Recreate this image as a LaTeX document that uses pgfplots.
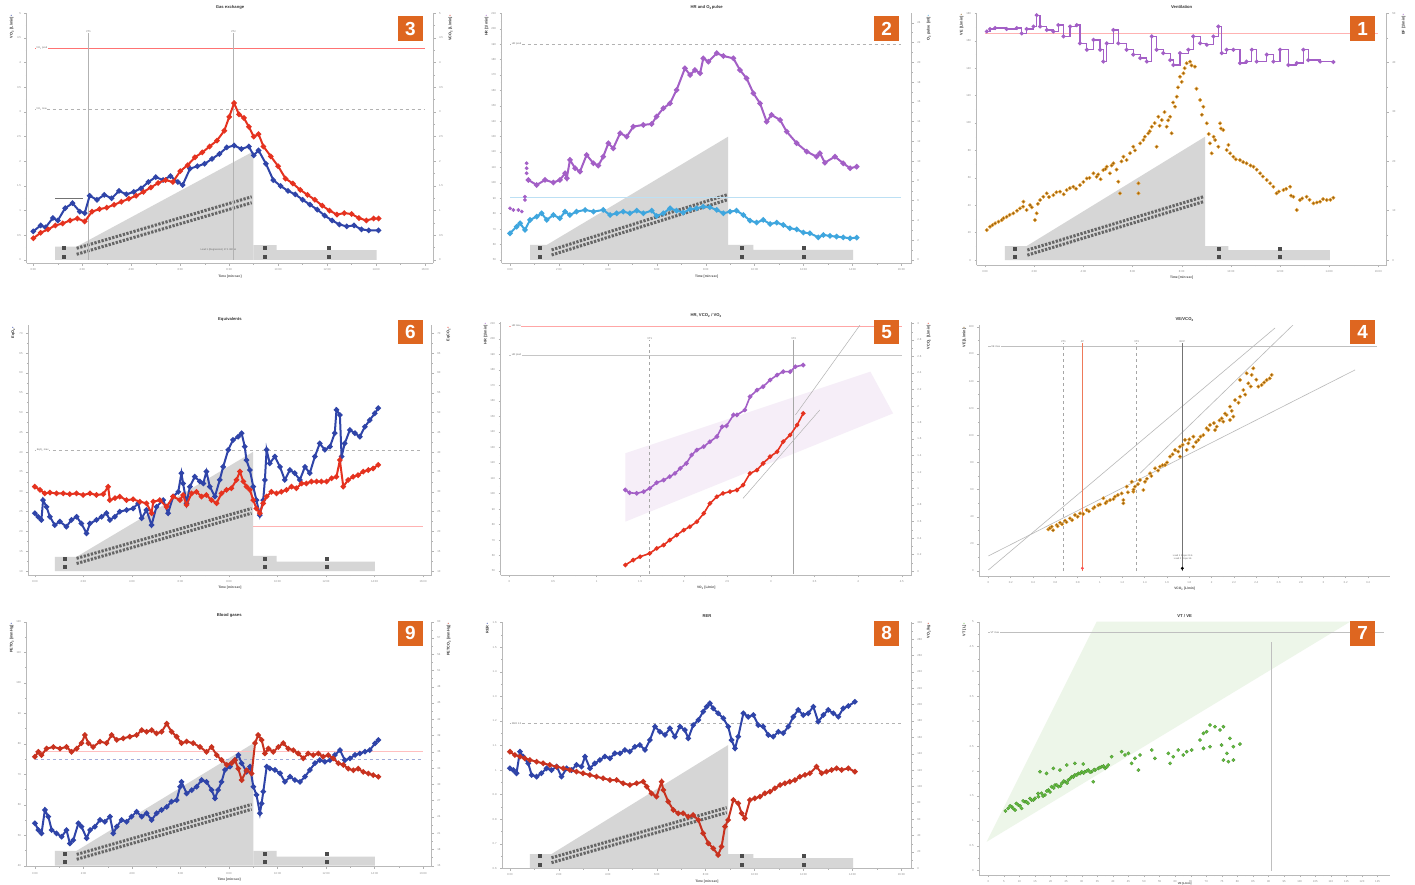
\documentclass[border=0pt]{standalone}
\usepackage{fontspec}
\setmainfont{Liberation Sans}
\usepackage{pgfplots}
\pgfplotsset{compat=1.18}
\definecolor{blueS}{HTML}{2F44A8}
\definecolor{redS}{HTML}{E5321F}
\definecolor{dredS}{HTML}{C8321F}
\definecolor{purpS}{HTML}{A35FC6}
\definecolor{lblueS}{HTML}{3FA6DE}
\definecolor{brownS}{HTML}{946016}
\definecolor{orngS}{HTML}{E8A030}
\definecolor{greenS}{HTML}{62BE3E}
\definecolor{badge}{HTML}{DE6620}
\definecolor{rampG}{HTML}{D6D6D6}
\definecolor{lav}{HTML}{F6EEF8}
\definecolor{lgreen}{HTML}{EDF6E9}
\definecolor{salmon}{HTML}{EE7A5A}
\tikzset{tt/.style={font=\fontsize{2.5}{3}\selectfont, text=black!60, inner sep=0.5bp}}
\pgfplotsset{
  noarr/.style={every outer x axis line/.append style={-}, every outer y axis line/.append style={-},
    every inner x axis line/.append style={-}, every inner y axis line/.append style={-},
    x axis line style={-}, y axis line style={-}},
  base/.style={scale only axis, enlargelimits=false, clip mode=individual,
    axis x line*=bottom, axis y line*=left,
    axis line style={gray!55, line width=0.5bp}, noarr,
    every tick/.style={gray!60, line width=0.4bp},
    major tick length=2.2bp, minor tick length=1.2bp, tick align=outside,
    minor x tick num=1, minor y tick num=1,
    tick label style={font=\fontsize{2.8}{3}\selectfont, text=black!45},
    /pgf/number format/assume math mode=true,
    title style={font=\fontsize{4.2}{5}\selectfont\bfseries, text=black!80, at={(0.5,1)}, anchor=center},
    xlabel style={font=\fontsize{3.3}{4}\selectfont\bfseries, text=black!70, yshift=3bp}},
  rax/.style={scale only axis, enlargelimits=false, clip mode=individual, axis x line=none, axis y line*=right,
    axis line style={gray!55, line width=0.5bp}, noarr,
    every tick/.style={gray!60, line width=0.4bp},
    major tick length=2.2bp, minor tick length=1.2bp, tick align=outside, minor y tick num=1,
    tick label style={font=\fontsize{2.8}{3}\selectfont, text=black!45},
    /pgf/number format/assume math mode=true},
  tl/.style={line width=2bp, mark=*, mark size=1.6bp},
  sc/.style={only marks, mark=*, mark size=1.7bp},
  ramp/.style={fill=rampG, draw=none},
  strip/.style={black!60, line width=3bp, dash pattern=on 2.3bp off 1.4bp},
  pair/.style={only marks, mark=square*, mark size=1.5bp, black!70},
  refl/.style={line width=0.5bp},
}
\newcommand{\lft}[2]{\node[xshift=-15bp,yshift=-1.5bp,rotate=90,anchor=east,inner sep=0pt,font=\fontsize{3.8}{4}\selectfont\bfseries,text=black!80] at (rel axis cs:0,1) {#2\,{\color{#1}\textbullet}};}
\newcommand{\rgt}[2]{\node[xshift=17bp,yshift=-1.5bp,rotate=90,anchor=east,inner sep=0pt,font=\fontsize{3.8}{4}\selectfont\bfseries,text=black!80] at (rel axis cs:1,1) {#2\,{\color{#1}\textbullet}};}
\newcommand{\badge}[3]{\node[fill=badge,text=white,minimum size=24.5bp,inner sep=0pt,font=\fontsize{19}{19}\selectfont\bfseries] at (#1bp,-#2bp) {#3};}
\newcommand{\two}{\textsubscript{2}}
\begin{document}
\begin{tikzpicture}
\useasboundingbox[fill=white] (0,0) rectangle (1415bp,-885bp);

% ================= Panel 3 : Gas exchange =================
\begin{axis}[base, at={(26.7bp,-263.3bp)}, anchor=south west, width=406.7bp, height=250bp,
  xmin=-0.27, xmax=16.34, ymin=-0.068, ymax=5.0,
  xtick={0,2,4,6,8,10,12,14,16}, xticklabels={0:00,2:00,4:00,6:00,8:00,10:00,12:00,14:00,16:00},
  ytick={0,0.5,1,1.5,2,2.5,3,3.5,4,4.5,5},
  title={Gas exchange}, xlabel={Time [min:sec]}]
\addplot[ramp] coordinates {(0.89,0)(0.89,0.27)(1.77,0.27)(8.99,2.2)(8.99,0)} -- cycle;
\addplot[ramp] coordinates {(8.99,0)(8.99,0.30)(9.94,0.30)(9.94,0.20)(14.02,0.20)(14.02,0)} -- cycle;
\addplot[strip] coordinates {(1.77,0.115)(8.92,1.16)};
\addplot[strip] coordinates {(1.77,0.236)(8.92,1.28)};
\addplot[pair] coordinates {(1.23,0.07)(1.23,0.24)(9.46,0.07)(9.46,0.24)(12.05,0.07)(12.05,0.24)};
\addplot[black!55, refl] coordinates {(0.89,1.25)(2.04,1.25)};
\node[tt, anchor=west] at (axis cs:6.8,0.2) {Load 1 (Regression) 17.1 W/min};
\addplot[red!55, refl] coordinates {(0.07,4.29)(16,4.29)};
\addplot[gray!60, refl, dashed] coordinates {(0.07,3.05)(16,3.05)};
\node[tt, anchor=west, fill=white] at (axis cs:0.1,4.29) {VO\two\ pred};
\node[tt, anchor=west, fill=white] at (axis cs:0.1,3.05) {VO\two\ max};
\addplot[gray!60, refl] coordinates {(2.25,0)(2.25,4.6)};
\addplot[gray!60, refl] coordinates {(8.17,0)(8.17,4.6)};
\node[tt, anchor=south] at (axis cs:2.25,4.6) {VT1};
\node[tt, anchor=south] at (axis cs:8.17,4.6) {VT2};
\addplot[blueS, tl] coordinates {(0.0,0.58)(0.3,0.70)(0.5,0.66)(0.8,0.85)(1.0,0.80)(1.3,1.05)(1.6,1.15)(1.9,0.98)(2.1,0.95)(2.3,1.30)(2.6,1.22)(2.9,1.32)(3.2,1.25)(3.5,1.40)(3.8,1.33)(4.1,1.38)(4.4,1.45)(4.7,1.58)(5.0,1.68)(5.3,1.62)(5.6,1.70)(5.9,1.58)(6.1,1.52)(6.4,1.85)(6.7,1.90)(7.0,1.95)(7.3,2.05)(7.6,2.15)(7.9,2.28)(8.2,2.32)(8.5,2.25)(8.8,2.30)(9.0,2.12)(9.2,2.22)(9.5,1.95)(9.8,1.62)(10.1,1.50)(10.4,1.40)(10.7,1.33)(11.0,1.22)(11.3,1.12)(11.6,1.02)(11.9,0.90)(12.2,0.80)(12.5,0.72)(12.8,0.68)(13.1,0.70)(13.4,0.62)(13.7,0.60)(14.1,0.60)};
\addplot[redS, tl] coordinates {(0.0,0.44)(0.3,0.55)(0.6,0.62)(0.9,0.70)(1.2,0.74)(1.5,0.80)(1.8,0.84)(2.1,0.78)(2.4,0.98)(2.7,1.03)(3.0,1.06)(3.3,1.12)(3.6,1.18)(3.9,1.24)(4.2,1.30)(4.5,1.38)(4.8,1.47)(5.1,1.56)(5.4,1.62)(5.7,1.58)(6.0,1.80)(6.3,1.92)(6.6,2.08)(6.9,2.18)(7.2,2.30)(7.5,2.42)(7.8,2.62)(8.0,2.90)(8.2,3.18)(8.4,2.95)(8.6,2.88)(8.8,2.70)(9.0,2.50)(9.2,2.55)(9.4,2.30)(9.7,2.10)(10.0,1.90)(10.3,1.65)(10.6,1.55)(10.9,1.42)(11.2,1.32)(11.5,1.22)(11.8,1.10)(12.1,1.00)(12.4,0.92)(12.7,0.95)(13.0,0.93)(13.3,0.85)(13.6,0.80)(13.9,0.84)(14.1,0.84)};
\lft{blueS}{VO\two\ [L/min]}
\end{axis}
\begin{axis}[rax, at={(26.7bp,-263.3bp)}, anchor=south west, width=406.7bp, height=250bp,
  xmin=-0.27, xmax=16.34, ymin=-0.068, ymax=5.0, ytick={0,0.5,1,1.5,2,2.5,3,3.5,4,4.5,5}]
\rgt{redS}{VCO\two\ [L/min]}
\end{axis}

% ================= Panel 2 : HR and O2 pulse =================
\begin{axis}[base, at={(501.7bp,-263.3bp)}, anchor=south west, width=410bp, height=250bp,
  xmin=-0.34, xmax=16.42, ymin=47.8, ymax=210,
  xtick={0,2,4,6,8,10,12,14,16}, xticklabels={0:00,2:00,4:00,6:00,8:00,10:00,12:00,14:00,16:00},
  ytick={50,60,70,80,90,100,110,120,130,140,150,160,170,180,190,200,210},
  title={HR and O\two pulse}, xlabel={Time [min:sec]}]
\addplot[ramp] coordinates {(0.82,50)(0.82,59.7)(1.50,59.7)(8.92,130)(8.92,50)} -- cycle;
\addplot[ramp] coordinates {(8.92,50)(8.92,59.7)(9.95,59.7)(9.95,56.5)(14.03,56.5)(14.03,50)} -- cycle;
\addplot[strip] coordinates {(1.70,53.2)(8.86,88.9)};
\addplot[strip] coordinates {(1.70,56.5)(8.86,92.2)};
\addplot[pair] coordinates {(1.23,52.2)(1.23,57.6)(9.47,52.2)(9.47,57.6)(11.99,52.2)(11.99,57.6)};
\addplot[gray!60, refl, dashed] coordinates {(0,190)(16,190)};
\addplot[lblueS!35, refl] coordinates {(0,90.6)(16,90.6)};
\node[tt, anchor=west, fill=white] at (axis cs:0.05,190) {HR pred};
\addplot[purpS, sc] coordinates {(0.0,83.5)(0.14,82.4)(0.34,82.4)(0.48,81.4)(0.61,91.0)(0.61,88.9)(0.68,112.7)(0.68,109.5)(0.68,106.2)};
\addplot[purpS, tl] coordinates {(0.75,101.9)(1.09,98.6)(1.43,101.9)(1.77,100.2)(2.04,101.9)(2.25,106.2)(2.32,103.0)(2.45,114.9)(2.66,109.5)(2.86,107.3)(3.13,118.1)(3.41,112.7)(3.61,111.2)(3.81,117.0)(4.02,125.7)(4.22,122.4)(4.50,132.2)(4.77,130.0)(5.04,136.5)(5.45,137.6)(5.79,138.2)(5.99,143.0)(6.27,148.4)(6.54,151.6)(6.81,160.3)(7.15,174.3)(7.36,170.0)(7.56,173.2)(7.77,171.1)(7.90,180.8)(8.11,178.6)(8.45,184.1)(8.72,182.3)(9.13,180.8)(9.40,173.2)(9.67,167.8)(9.95,158.1)(10.22,151.6)(10.49,139.7)(10.69,144.1)(11.04,140.8)(11.31,133.2)(11.72,125.7)(12.13,120.3)(12.53,117.0)(12.67,119.2)(12.87,113.1)(13.28,117.0)(13.62,112.7)(13.90,109.5)(14.17,110.5)};
\lft{purpS}{HR [1/min]}
\end{axis}
\begin{axis}[rax, at={(501.7bp,-263.3bp)}, anchor=south west, width=410bp, height=250bp,
  xmin=-0.34, xmax=16.42, ymin=-0.34, ymax=24.96, ytick={0,2,4,6,8,10,12,14,16,18,20,22,24}]
\addplot[lblueS, tl] coordinates {(0.0,2.70)(0.27,3.37)(0.41,3.71)(0.61,3.04)(0.82,4.05)(1.09,4.38)(1.29,4.72)(1.50,4.05)(1.77,4.55)(2.04,4.22)(2.25,4.89)(2.45,4.55)(2.72,4.89)(3.07,5.06)(3.41,4.89)(3.81,5.06)(4.09,4.55)(4.36,4.72)(4.63,4.89)(4.90,4.72)(5.18,4.99)(5.45,4.72)(5.79,4.99)(5.99,4.45)(6.27,4.72)(6.54,5.23)(6.81,4.99)(7.08,4.79)(7.36,5.13)(7.63,5.23)(7.90,5.40)(8.17,5.33)(8.45,5.06)(8.72,4.72)(8.99,4.89)(9.26,4.99)(9.54,4.55)(9.81,3.98)(10.08,3.78)(10.35,4.05)(10.63,3.64)(10.90,3.78)(11.17,3.54)(11.44,3.20)(11.72,3.10)(11.99,2.77)(12.26,2.70)(12.60,2.29)(12.81,2.53)(13.08,2.43)(13.35,2.36)(13.62,2.29)(13.90,2.19)(14.17,2.26)};
\rgt{lblueS}{O\two\ pulse [ml]}
\end{axis}

% ================= Panel 1 : Ventilation =================
\begin{axis}[base, at={(976.7bp,-265bp)}, anchor=south west, width=410bp, height=252.3bp,
  xmin=-0.34, xmax=16.34, ymin=-3.6, ymax=180.5,
  xtick={0,2,4,6,8,10,12,14,16}, xticklabels={0:00,2:00,4:00,6:00,8:00,10:00,12:00,14:00,16:00},
  ytick={0,20,40,60,80,100,120,140,160,180},
  title={Ventilation}, xlabel={Time [min:sec]}]
\addplot[ramp] coordinates {(0.81,0)(0.81,10.2)(1.69,10.2)(8.95,90)(8.95,0)} -- cycle;
\addplot[ramp] coordinates {(8.95,0)(8.95,10.2)(9.90,10.2)(9.90,7.3)(14.03,7.3)(14.03,0)} -- cycle;
\addplot[strip] coordinates {(1.72,3.6)(8.88,42.6)};
\addplot[strip] coordinates {(1.72,7.3)(8.88,46.2)};
\addplot[pair] coordinates {(1.22,2.4)(1.22,8.5)(9.49,2.4)(9.49,8.5)(12.0,2.4)(12.0,8.5)};
\addplot[sc, mark options={fill=brownS, draw=orngS, line width=0.5bp}] coordinates {(0.07,21.9)(0.20,24.3)(0.41,26.8)(0.68,29.2)(0.88,31.6)(1.15,34.1)(1.42,37.7)(1.56,42.6)(1.69,36.5)(1.83,40.1)(2.03,29.2)(2.10,34.1)(2.24,43.8)(2.37,46.2)(2.51,48.7)(2.78,47.4)(3.05,49.9)(3.32,51.1)(3.59,53.5)(3.86,54.7)(4.14,59.6)(4.41,63.3)(4.54,60.8)(4.81,65.7)(4.95,68.1)(5.08,63.3)(5.22,70.6)(5.42,57.2)(5.49,48.7)(5.63,75.4)(5.76,73.0)(6.03,82.7)(6.24,56.0)(6.24,48.7)(6.31,85.2)(6.44,87.6)(6.64,92.5)(6.78,97.3)(6.98,82.7)(7.05,104.6)(7.19,102.2)(7.39,97.3)(7.53,104.6)(7.59,92.5)(7.73,111.9)(7.80,119.2)(7.93,133.8)(8.07,136.3)(8.20,143.6)(8.34,144.8)(8.54,141.1)(8.75,116.8)(8.88,111.9)(9.02,99.8)(9.15,85.2)(9.22,77.9)(9.36,87.6)(9.49,82.7)(9.56,99.8)(9.69,94.9)(9.83,80.3)(9.97,77.9)(10.10,75.4)(10.37,73.0)(10.64,70.6)(10.92,68.1)(11.19,63.3)(11.46,58.4)(11.73,53.5)(11.86,48.7)(12.14,51.1)(12.41,53.5)(12.54,46.2)(12.68,36.5)(12.81,43.8)(13.08,46.2)(13.36,41.4)(13.63,42.6)(13.90,43.8)(14.17,45.5)
(0.3,25.5)(0.55,28.0)(0.75,30.5)(1.0,33.0)(1.3,36.0)(1.55,39.0)(1.9,38.5)(2.15,41.0)(2.6,46.0)(2.9,49.5)(3.2,48.0)(3.45,52.5)(3.7,52.0)(4.0,57.0)(4.25,60.0)(4.6,62.5)(4.7,59.0)(4.9,66.5)(5.15,69.0)(5.35,66.0)(5.55,72.0)(5.9,78.0)(6.1,80.0)(6.5,90.0)(6.7,94.0)(6.9,100.0)(7.1,98.0)(7.3,108.0)(7.45,102.0)(7.65,115.0)(7.85,126.0)(8.0,130.0)(8.12,140.0)(8.4,142.0)(8.6,125.0)(8.82,106.0)(9.1,92.0)(9.3,90.0)(9.6,96.0)(9.9,84.0)(10.2,73.5)(10.5,71.5)(10.8,69.0)(11.05,66.0)(11.3,61.0)(11.6,56.0)(11.95,50.0)(12.25,52.0)(12.45,47.0)(12.9,45.0)(13.2,44.0)(13.5,42.0)(13.75,44.5)(14.05,44.0)};
\lft{brownS}{VE [L/min]}
\end{axis}
\begin{axis}[rax, at={(976.7bp,-265bp)}, anchor=south west, width=410bp, height=252.3bp,
  xmin=-0.34, xmax=16.34, ymin=-1.0, ymax=50.1, ytick={0,10,20,30,40,50}]
\addplot[red!30, refl] coordinates {(0,45.9)(16,45.9)};
\addplot[purpS, const plot, line width=1.3bp, mark=*, mark size=1.3bp] coordinates {(0.07,46.3)(0.20,46.8)(0.41,47.0)(0.88,46.8)(1.29,47.0)(1.49,45.9)(1.69,46.8)(1.97,47.3)(2.10,49.6)(2.24,47.3)(2.51,46.6)(2.78,46.3)(2.98,47.6)(3.19,45.3)(3.46,47.3)(3.73,47.6)(3.86,43.9)(4.14,42.6)(4.41,44.6)(4.68,42.6)(4.81,40.2)(4.95,43.9)(5.22,46.6)(5.42,43.9)(5.76,42.6)(6.03,41.6)(6.31,40.9)(6.58,40.2)(6.78,45.3)(6.98,42.6)(7.25,41.9)(7.53,40.5)(7.66,39.5)(7.93,41.9)(8.27,42.6)(8.47,45.3)(8.75,43.9)(9.02,43.6)(9.29,45.3)(9.49,47.3)(9.63,41.9)(9.83,42.6)(10.10,42.6)(10.37,39.9)(10.64,40.2)(10.85,42.6)(11.05,40.2)(11.46,41.6)(11.73,40.2)(12.00,42.6)(12.34,39.5)(12.68,39.9)(12.95,42.6)(13.15,40.5)(13.63,40.2)(14.17,40.1)};
\rgt{purpS}{BF [1/min]}
\end{axis}

% ================= Panel 6 : Equivalents =================
\begin{axis}[base, at={(28.3bp,-575bp)}, anchor=south west, width=403.3bp, height=250bp,
  xmin=-0.27, xmax=16.35, ymin=9.0, ymax=72.1,
  xtick={0,2,4,6,8,10,12,14,16}, xticklabels={0:00,2:00,4:00,6:00,8:00,10:00,12:00,14:00,16:00},
  ytick={10,15,20,25,30,35,40,45,50,55,60,65,70},
  title={Equivalents}, xlabel={Time [min:sec]}]
\addplot[ramp] coordinates {(0.82,10)(0.82,13.6)(1.72,13.6)(9.00,40.1)(9.00,10)} -- cycle;
\addplot[ramp] coordinates {(9.00,10)(9.00,13.8)(9.96,13.8)(9.96,12.4)(14.01,12.4)(14.01,10)} -- cycle;
\addplot[strip] coordinates {(1.72,11.9)(8.93,24.6)};
\addplot[strip] coordinates {(1.72,13.2)(8.93,25.8)};
\addplot[pair] coordinates {(1.24,11.1)(1.24,13.2)(9.48,11.1)(9.48,13.2)(12.02,11.1)(12.02,13.2)};
\addplot[gray!60, refl, dashed] coordinates {(0,40.6)(16,40.6)};
\addplot[red!30, refl] coordinates {(9.0,21.4)(16,21.4)};
\node[tt, anchor=west, fill=white] at (axis cs:0.05,40.6) {EqO\two\ max};
\addplot[blueS, tl] coordinates {(0.00,24.6)(0.14,23.7)(0.27,22.9)(0.34,27.9)(0.48,26.2)(0.62,23.7)(0.82,21.6)(1.03,22.5)(1.30,21.2)(1.51,22.9)(1.72,23.7)(1.92,22.0)(2.13,19.5)(2.27,22.0)(2.54,22.9)(2.75,23.7)(2.95,24.6)(3.09,22.9)(3.30,23.7)(3.50,25.0)(3.78,25.4)(4.05,25.8)(4.26,27.1)(4.40,23.3)(4.60,25.4)(4.81,21.6)(5.01,26.2)(5.29,27.9)(5.49,24.6)(5.70,28.8)(5.91,30.0)(6.04,34.7)(6.11,32.1)(6.25,27.1)(6.39,31.3)(6.59,33.8)(6.80,32.6)(6.94,32.1)(7.07,35.1)(7.21,31.3)(7.42,28.8)(7.62,33.0)(7.76,36.3)(7.97,40.6)(8.17,43.1)(8.38,43.9)(8.52,44.8)(8.65,41.4)(8.72,38.0)(8.86,35.5)(9.00,31.3)(9.13,27.9)(9.27,24.1)(9.41,27.9)(9.48,33.0)(9.55,40.6)(9.68,37.2)(9.89,38.9)(10.10,36.3)(10.30,33.0)(10.51,35.5)(10.71,34.7)(10.92,33.0)(11.13,36.3)(11.33,34.7)(11.54,38.9)(11.74,42.2)(11.95,40.6)(12.16,41.4)(12.36,44.8)(12.43,50.7)(12.57,49.4)(12.64,38.9)(12.77,42.2)(12.98,45.6)(13.19,44.8)(13.39,43.9)(13.60,46.4)(13.80,48.1)(14.01,49.8)(14.15,51.1)};
\addplot[redS, tl] coordinates {(0.00,31.3)(0.21,30.5)(0.41,29.6)(0.62,29.8)(0.89,29.6)(1.17,29.6)(1.44,29.4)(1.72,29.6)(1.99,29.2)(2.27,29.6)(2.54,29.2)(2.82,29.4)(3.02,31.3)(3.09,27.9)(3.30,28.4)(3.50,28.8)(3.78,27.9)(4.05,28.1)(4.33,27.5)(4.60,27.1)(4.81,24.6)(4.88,27.5)(5.15,27.9)(5.43,26.2)(5.70,28.8)(5.98,27.9)(6.11,29.2)(6.25,26.7)(6.46,29.6)(6.66,30.0)(6.87,28.8)(7.07,29.2)(7.28,27.9)(7.49,27.1)(7.69,29.6)(7.90,30.5)(8.10,30.9)(8.31,33.0)(8.45,35.1)(8.59,32.6)(8.72,31.3)(8.86,30.5)(9.00,27.9)(9.13,25.8)(9.27,24.6)(9.41,27.1)(9.55,28.8)(9.75,30.0)(9.96,29.6)(10.16,30.0)(10.37,30.5)(10.58,31.3)(10.78,30.9)(10.99,32.1)(11.19,32.1)(11.40,32.6)(11.61,32.6)(11.81,32.6)(12.02,32.6)(12.23,33.4)(12.43,33.8)(12.57,38.0)(12.71,31.3)(12.91,33.0)(13.12,33.8)(13.32,34.2)(13.53,35.1)(13.74,35.5)(13.94,35.9)(14.15,36.8)};
\lft{blueS}{EqO\two}
\end{axis}
\begin{axis}[rax, at={(28.3bp,-575bp)}, anchor=south west, width=403.3bp, height=250bp,
  xmin=-0.27, xmax=16.35, ymin=9.0, ymax=72.1, ytick={10,15,20,25,30,35,40,45,50,55,60,65,70}]
\rgt{redS}{EqCO\two}
\end{axis}

% ================= Panel 5 : V-slope =================
\begin{axis}[base, at={(500.7bp,-575bp)}, anchor=south west, width=411bp, height=253.3bp,
  xmin=-0.099, xmax=4.614, ymin=47.4, ymax=211.2,
  xtick={0,0.5,1,1.5,2,2.5,3,3.5,4,4.5},
  ytick={50,60,70,80,90,100,110,120,130,140,150,160,170,180,190,200,210},
  title={HR, VCO\two\ / VO\two}, xlabel={VO\two\ [L/min]}]
\addplot[fill=lav, draw=none] coordinates {(1.33,126.1)(4.14,178.9)(4.40,151.9)(1.33,81.9)} -- cycle;
\addplot[red!35, refl] coordinates {(0,208.4)(4.5,208.4)};
\addplot[gray!45, refl] coordinates {(0,189.7)(4.5,189.7)};
\node[tt, anchor=west, fill=white] at (axis cs:0.02,208.4) {HR max};
\node[tt, anchor=west, fill=white] at (axis cs:0.02,189.7) {HR pred};
\addplot[gray!70, refl, dashed] coordinates {(1.61,48)(1.61,199.4)};
\addplot[gray!70, refl] coordinates {(3.26,48)(3.26,199.4)};
\node[tt, anchor=south] at (axis cs:1.61,199.4) {VT1};
\node[tt, anchor=south] at (axis cs:3.26,199.4) {VT2};
\addplot[purpS, tl, line width=1.6bp, mark size=1.4bp] coordinates {(1.33,102.4)(1.38,100.6)(1.46,100.2)(1.54,101.3)(1.61,103.4)(1.69,107.1)(1.77,108.8)(1.84,111.0)(1.90,113.1)(1.96,116.4)(2.03,119.6)(2.09,125.0)(2.15,128.2)(2.23,130.4)(2.30,133.6)(2.38,136.9)(2.44,143.3)(2.49,143.8)(2.57,150.9)(2.61,150.9)(2.70,154.1)(2.76,162.7)(2.84,167.0)(2.91,169.2)(2.99,173.5)(3.07,176.7)(3.14,178.9)(3.22,178.9)(3.28,182.1)(3.37,183.2)};
\lft{purpS}{HR [1/min]}
\end{axis}
\begin{axis}[rax, at={(500.7bp,-575bp)}, anchor=south west, width=411bp, height=253.3bp,
  xmin=-0.099, xmax=4.614, ymin=-0.048, ymax=3.022,
  ytick={0,0.2,0.4,0.6,0.8,1.0,1.2,1.4,1.6,1.8,2.0,2.2,2.4,2.6,2.8,3.0}]
\addplot[gray!60, refl] coordinates {(2.68,0.881)(3.56,1.952)};
\addplot[gray!60, refl] coordinates {(3.28,1.891)(4.02,2.98)};
\addplot[redS, tl, line width=1.6bp, mark size=1.4bp] coordinates {(1.33,0.073)(1.42,0.133)(1.50,0.174)(1.61,0.214)(1.69,0.275)(1.77,0.315)(1.84,0.376)(1.92,0.436)(2.00,0.497)(2.07,0.537)(2.15,0.598)(2.23,0.699)(2.30,0.820)(2.38,0.901)(2.45,0.941)(2.53,0.962)(2.61,0.982)(2.68,1.042)(2.76,1.184)(2.84,1.224)(2.91,1.305)(2.99,1.386)(3.07,1.446)(3.14,1.568)(3.22,1.648)(3.30,1.770)(3.37,1.911)};
\rgt{redS}{VCO\two\ [L/min]}
\end{axis}

% ================= Panel 4 : VE / VCO2 =================
\begin{axis}[base, at={(979.3bp,-576bp)}, anchor=south west, width=410.7bp, height=251bp,
  xmin=-0.081, xmax=3.597, ymin=-3.69, ymax=181.3,
  xtick={0,0.2,0.4,0.6,0.8,1.0,1.2,1.4,1.6,1.8,2.0,2.2,2.4,2.6,2.8,3.0,3.2,3.4},
  ytick={0,20,40,60,80,100,120,140,160,180},
  title={VE/VCO\two}, xlabel={VCO\two\ [L/min]}]
\addplot[gray!50, refl] coordinates {(0,165.4)(3.478,165.4)};
\node[tt, anchor=west, fill=white] at (axis cs:0.02,165.4) {VE max};
\addplot[gray!55, line width=0.6bp] coordinates {(0,0.74)(2.567,179.1)};
\addplot[gray!55, line width=0.6bp] coordinates {(1.358,72.0)(2.728,181.3)};
\addplot[gray!55, line width=0.6bp] coordinates {(0,11.1)(3.284,148.2)};
\addplot[gray!70, refl, dashed] coordinates {(0.672,0)(0.672,167.8)};
\addplot[salmon, line width=0.9bp] coordinates {(0.842,0)(0.842,167.8)};
\addplot[gray!70, refl, dashed] coordinates {(1.328,0)(1.328,167.8)};
\addplot[black!55, line width=0.6bp] coordinates {(1.737,0)(1.737,167.8)};
\node[tt, anchor=south] at (axis cs:0.672,167.8) {VT1};
\node[tt, anchor=south] at (axis cs:0.842,167.8) {AT};
\node[tt, anchor=south] at (axis cs:1.328,167.8) {VT2};
\node[tt, anchor=south] at (axis cs:1.737,167.8) {RCP};
\node[tt, align=center, font=\fontsize{2.4}{2.8}\selectfont] at (axis cs:1.74,10) {Load 1 Slope 23.6\\Load 2 Slope 36};
\addplot[only marks, mark=*, mark size=1.3bp, red!70] coordinates {(0.842,2)};
\addplot[only marks, mark=*, mark size=1.3bp, black] coordinates {(1.737,2)};
\addplot[sc, mark options={fill=brownS, draw=orngS, line width=0.5bp}] coordinates {(0.537,30.7)(0.567,32.7)(0.612,33.9)(0.642,35.6)(0.687,37.1)(0.731,38.8)(0.776,41.3)(0.821,42.5)(0.881,45.0)(0.940,46.2)(0.985,48.6)(1.030,53.6)(1.060,51.1)(1.090,52.3)(1.134,54.8)(1.194,57.2)(1.209,52.3)(1.239,62.2)(1.284,65.8)(1.313,62.2)(1.358,67.1)(1.403,65.8)(1.388,59.7)(1.448,72.0)(1.493,75.7)(1.537,76.9)(1.582,78.1)(1.627,84.3)(1.672,89.2)(1.716,91.6)(1.761,96.6)(1.791,94.1)(1.836,99.0)(1.881,96.6)(1.925,100.2)(1.955,105.2)(1.985,107.6)(2.045,106.4)(2.090,112.5)(2.134,115.0)(2.164,121.1)(2.209,126.0)(2.254,128.5)(2.284,133.4)(2.328,138.3)(2.358,144.5)(2.373,149.4)(2.418,135.9)(2.448,137.1)(2.493,140.8)(2.537,144.5)(2.254,140.8)(2.313,145.7)(2.194,113.8)(2.164,111.3)(2.104,110.1)(2.030,103.9)(1.836,91.6)(1.776,89.2)(1.716,84.3)(1.209,49.9)(1.299,58.5)
(0.55,31.5)(0.58,30.0)(0.62,33.0)(0.66,34.5)(0.70,36.0)(0.75,37.5)(0.80,40.0)(0.85,42.0)(0.90,44.0)(0.95,47.0)(1.0,49.0)(1.05,50.0)(1.12,53.0)(1.16,56.0)(1.25,58.0)(1.3,60.0)(1.34,64.0)(1.42,68.0)(1.46,70.0)(1.52,74.0)(1.56,78.0)(1.6,80.0)(1.65,86.0)(1.7,88.0)(1.74,93.0)(1.8,97.0)(1.86,95.0)(1.9,99.0)(1.97,104.0)(2.02,109.0)(2.07,111.0)(2.12,116.0)(2.18,118.0)(2.24,124.0)(2.3,130.0)(2.35,136.0)(2.4,141.0)(2.47,139.0)(2.52,142.0)};
\lft{brownS}{VE [L/min]}
\end{axis}

% ================= Panel 9 : Blood gases =================
\begin{axis}[base, at={(26.7bp,-866.7bp)}, anchor=south west, width=405bp, height=245bp,
  xmin=-0.34, xmax=16.35, ymin=39.67, ymax=120,
  xtick={0,2,4,6,8,10,12,14,16}, xticklabels={0:00,2:00,4:00,6:00,8:00,10:00,12:00,14:00,16:00},
  ytick={40,50,60,70,80,90,100,110,120},
  title={Blood gases}, xlabel={Time [min:sec]}]
\addplot[ramp] coordinates {(0.82,40)(0.82,44.9)(1.72,44.9)(9.00,80.1)(9.00,40)} -- cycle;
\addplot[ramp] coordinates {(9.00,40)(9.00,44.9)(9.96,44.9)(9.96,43.0)(14.01,43.0)(14.01,40)} -- cycle;
\addplot[strip] coordinates {(1.72,42.1)(8.93,58.5)};
\addplot[strip] coordinates {(1.72,43.7)(8.93,60.1)};
\addplot[pair] coordinates {(1.24,41.3)(1.24,44.0)(9.48,41.3)(9.48,44.0)(12.02,41.3)(12.02,44.0)};
\addplot[red!25, refl] coordinates {(0,77.6)(16,77.6)};
\addplot[blueS!45, refl, dashed] coordinates {(0,74.9)(16,74.9)};
\addplot[blueS, tl] coordinates {(0.00,53.9)(0.14,51.7)(0.27,50.6)(0.41,58.3)(0.55,56.1)(0.69,51.7)(0.89,50.6)(1.10,49.5)(1.30,51.7)(1.44,47.3)(1.58,48.4)(1.79,53.9)(1.92,52.8)(2.13,49.0)(2.27,51.7)(2.47,52.8)(2.68,55.0)(2.88,54.4)(3.09,56.1)(3.23,50.6)(3.37,52.8)(3.57,55.0)(3.78,54.4)(3.98,56.1)(4.19,57.7)(4.40,56.1)(4.60,57.2)(4.81,55.0)(5.01,57.2)(5.22,58.3)(5.43,59.3)(5.63,61.0)(5.84,61.5)(5.98,65.9)(6.04,67.5)(6.25,63.7)(6.46,64.8)(6.66,65.9)(6.87,68.1)(7.07,67.5)(7.28,64.8)(7.42,62.1)(7.55,64.8)(7.69,67.5)(7.83,71.4)(8.04,72.5)(8.24,74.6)(8.38,76.3)(8.52,73.6)(8.72,70.8)(8.86,72.5)(9.00,65.9)(9.13,63.2)(9.27,57.2)(9.34,60.4)(9.41,64.3)(9.55,72.5)(9.68,71.9)(9.89,71.4)(10.10,70.3)(10.30,67.5)(10.51,69.2)(10.71,68.1)(10.92,67.5)(11.13,69.2)(11.33,71.4)(11.54,73.6)(11.74,74.6)(11.95,74.1)(12.16,74.6)(12.36,76.3)(12.57,77.9)(12.77,74.6)(12.98,75.2)(13.19,76.3)(13.39,76.8)(13.60,77.4)(13.80,77.9)(14.01,80.1)(14.15,81.2)};
\lft{blueS}{PETO\two\ [mmHg]}
\end{axis}
\begin{axis}[rax, at={(26.7bp,-866.7bp)}, anchor=south west, width=405bp, height=245bp,
  xmin=-0.34, xmax=16.35, ymin=14.82, ymax=60, ytick={15,18,21,24,27,30,33,36,39,42,45,48,51,54,57,60}]
\addplot[dredS, tl] coordinates {(0.00,35.1)(0.14,36.0)(0.27,35.4)(0.48,36.6)(0.76,36.9)(1.03,36.6)(1.30,36.9)(1.51,36.0)(1.72,36.6)(1.92,37.6)(2.06,39.1)(2.20,37.6)(2.40,36.9)(2.68,37.9)(2.95,37.6)(3.16,39.1)(3.37,38.2)(3.64,38.5)(3.91,38.8)(4.19,39.1)(4.40,40.0)(4.60,39.7)(4.81,40.0)(5.01,39.4)(5.22,39.7)(5.43,41.2)(5.63,39.7)(5.84,38.8)(6.04,37.6)(6.25,37.9)(6.52,37.6)(6.80,36.9)(7.07,36.0)(7.28,36.9)(7.49,35.4)(7.69,34.5)(7.90,33.6)(8.10,33.9)(8.24,34.5)(8.38,32.9)(8.52,30.8)(8.72,32.6)(8.93,32.0)(9.07,37.6)(9.20,39.1)(9.34,38.2)(9.48,35.7)(9.62,36.6)(9.82,36.0)(10.03,36.9)(10.23,37.6)(10.44,36.6)(10.65,36.3)(10.85,35.7)(11.06,34.8)(11.26,35.7)(11.47,35.4)(11.68,35.7)(11.88,35.1)(12.09,35.4)(12.29,34.8)(12.50,33.9)(12.71,33.6)(12.91,32.9)(13.12,32.6)(13.32,32.9)(13.53,32.3)(13.74,32.0)(13.94,31.7)(14.15,31.4)};
\rgt{dredS}{PETCO\two\ [mmHg]}
\end{axis}

% ================= Panel 8 : RER =================
\begin{axis}[base, at={(502.3bp,-868.3bp)}, anchor=south west, width=409.4bp, height=246.6bp,
  xmin=-0.31, xmax=16.42, ymin=0.6, ymax=1.604,
  xtick={0,2,4,6,8,10,12,14,16}, xticklabels={0:00,2:00,4:00,6:00,8:00,10:00,12:00,14:00,16:00},
  ytick={0.6,0.7,0.8,0.9,1.0,1.1,1.2,1.3,1.4,1.5,1.6},
  title={RER}, xlabel={Time [min:sec]}]
\addplot[ramp] coordinates {(0.82,0.6)(0.82,0.658)(1.70,0.658)(8.92,1.102)(8.92,0.6)} -- cycle;
\addplot[ramp] coordinates {(8.92,0.6)(8.92,0.658)(9.95,0.658)(9.95,0.641)(14.03,0.641)(14.03,0.6)} -- cycle;
\addplot[strip] coordinates {(1.70,0.623)(8.86,0.827)};
\addplot[strip] coordinates {(1.70,0.643)(8.86,0.847)};
\addplot[pair] coordinates {(1.23,0.614)(1.23,0.650)(9.47,0.614)(9.47,0.650)(11.99,0.614)(11.99,0.650)};
\addplot[gray!60, refl, dashed] coordinates {(0,1.19)(16,1.19)};
\node[tt, anchor=west, fill=white] at (axis cs:0.05,1.19) {RER 1.0};
\addplot[blueS, tl] coordinates {(0.00,1.007)(0.14,1.000)(0.27,0.987)(0.41,1.075)(0.54,1.055)(0.75,1.027)(0.89,0.980)(1.09,0.973)(1.29,0.987)(1.50,1.007)(1.70,1.000)(1.91,1.014)(2.11,0.973)(2.32,1.007)(2.52,1.000)(2.72,1.021)(2.93,1.014)(3.07,1.055)(3.27,1.007)(3.47,1.027)(3.68,1.041)(3.88,1.055)(4.09,1.048)(4.29,1.068)(4.50,1.068)(4.70,1.082)(4.90,1.075)(5.11,1.095)(5.31,1.102)(5.52,1.082)(5.72,1.122)(5.93,1.177)(6.13,1.156)(6.34,1.143)(6.54,1.170)(6.74,1.136)(6.95,1.177)(7.15,1.163)(7.29,1.129)(7.49,1.183)(7.70,1.204)(7.90,1.238)(8.04,1.258)(8.17,1.272)(8.31,1.251)(8.51,1.231)(8.72,1.211)(8.92,1.177)(9.06,1.122)(9.20,1.088)(9.33,1.136)(9.54,1.231)(9.74,1.217)(9.95,1.224)(10.15,1.183)(10.35,1.177)(10.56,1.143)(10.76,1.136)(10.97,1.156)(11.17,1.150)(11.38,1.177)(11.58,1.217)(11.78,1.245)(11.99,1.224)(12.19,1.231)(12.40,1.258)(12.60,1.197)(12.81,1.224)(13.01,1.245)(13.22,1.231)(13.42,1.217)(13.62,1.251)(13.83,1.261)(14.10,1.278)};
\lft{blueS}{RER}
\end{axis}
\begin{axis}[rax, at={(502.3bp,-868.3bp)}, anchor=south west, width=409.4bp, height=246.6bp,
  xmin=-0.31, xmax=16.42, ymin=0, ymax=301.4, ytick={0,20,40,60,80,100,120,140,160,180,200,220,240,260,280,300}]
\addplot[dredS, tl] coordinates {(0.00,142.6)(0.20,138.5)(0.41,136.5)(0.61,134.4)(0.82,132.4)(1.09,130.3)(1.36,128.3)(1.63,126.3)(1.91,124.2)(2.18,122.2)(2.45,120.2)(2.72,118.1)(2.99,116.1)(3.27,114.1)(3.54,112.0)(3.81,110.0)(4.09,107.9)(4.36,107.9)(4.63,103.9)(4.90,101.8)(5.18,103.9)(5.45,105.9)(5.59,99.8)(5.79,91.6)(5.99,87.6)(6.20,105.9)(6.27,95.7)(6.47,81.5)(6.68,71.3)(6.88,67.2)(7.08,67.2)(7.29,63.1)(7.49,65.2)(7.70,59.1)(7.90,42.8)(8.11,30.5)(8.31,24.4)(8.51,16.3)(8.65,26.5)(8.79,50.9)(8.92,59.1)(9.13,83.5)(9.33,79.4)(9.47,67.2)(9.60,61.1)(9.81,83.5)(10.01,85.5)(10.22,87.6)(10.42,91.6)(10.63,93.7)(10.83,97.8)(11.04,101.8)(11.24,103.9)(11.44,105.9)(11.65,107.9)(11.85,112.0)(12.06,114.1)(12.26,116.1)(12.53,124.2)(12.74,116.1)(12.94,118.1)(13.15,120.2)(13.35,122.2)(13.56,120.2)(13.83,122.2)(14.10,118.1)};
\rgt{dredS}{VO\two/kg}
\end{axis}

% ================= Panel 7 : VT / VE =================
\begin{axis}[base, at={(979.3bp,-875bp)}, anchor=south west, width=410.7bp, height=253.3bp,
  xmin=-2.89, xmax=129, ymin=-0.087, ymax=5.0,
  xtick={0,5,10,15,20,25,30,35,40,45,50,55,60,65,70,75,80,85,90,95,100,105,110,115,120,125},
  ytick={0,0.5,1,1.5,2,2.5,3,3.5,4,4.5,5},
  title={VT / VE}, xlabel={VE [L/min]}, xlabel style={yshift=4bp, font=\fontsize{2.8}{3}\selectfont\bfseries}]
\addplot[fill=lgreen, draw=none] coordinates {(-0.54,0.58)(34.8,5.0)(116.2,5.0)} -- cycle;
\addplot[gray!50, refl] coordinates {(0,4.78)(127,4.78)};
\node[tt, anchor=west, fill=white] at (axis cs:0.5,4.78) {VT max};
\addplot[gray!50, refl] coordinates {(90.8,0)(90.8,4.6)};
\addplot[sc, mark options={fill=greenS, draw=greenS!75!black, line width=0.3bp}] coordinates {(6.4,1.252)(7.5,1.285)(8.6,1.218)(9.6,1.319)(10.7,1.252)(11.8,1.386)(12.8,1.352)(13.9,1.419)(15.0,1.452)(16.1,1.486)(17.1,1.553)(18.2,1.519)(19.3,1.620)(20.3,1.687)(21.4,1.720)(22.5,1.687)(23.6,1.754)(24.6,1.787)(25.7,1.821)(26.8,1.888)(27.8,1.921)(28.9,1.954)(30.0,1.988)(31.0,1.988)(32.1,2.021)(33.2,1.988)(34.3,2.021)(35.3,2.055)(36.4,2.088)(37.5,2.055)(38.5,2.122)(39.6,2.289)(16.6,1.988)(18.7,1.954)(20.9,2.055)(23.0,2.021)(25.2,2.122)(27.8,2.155)(30.5,2.142)(33.7,1.787)(42.8,2.390)(43.9,2.323)(45.0,2.356)(46.0,2.155)(47.1,2.256)(48.2,2.021)(48.7,2.323)(52.5,2.423)(53.5,2.256)(57.8,2.356)(58.4,2.155)(59.4,2.289)(61.0,2.423)(62.6,2.323)(63.7,2.390)(65.3,2.423)(68.0,2.624)(69.1,2.456)(70.1,2.791)(71.2,2.925)(72.8,2.892)(74.4,2.825)(75.5,2.892)(76.6,2.356)(77.6,2.657)(78.7,2.490)(80.8,2.543)(74.9,2.523)(75.5,2.222)(77.1,2.189)(78.7,2.222)(71.2,2.490)(69.1,2.758)
(5.5,1.20)(7.0,1.30)(8.0,1.25)(9.0,1.35)(10.2,1.30)(11.2,1.40)(12.3,1.38)(13.4,1.45)(14.5,1.42)(16.0,1.55)(17.6,1.50)(18.8,1.60)(19.8,1.58)(21.0,1.66)(22.0,1.72)(23.2,1.70)(24.2,1.80)(25.3,1.76)(26.3,1.85)(27.3,1.88)(28.4,1.92)(29.5,1.95)(30.6,1.96)(31.6,2.00)(32.7,1.98)(34.0,2.03)(35.8,2.07)(37.0,2.10)(38.0,2.08)};
\lft{greenS}{VT [L]}
\end{axis}

% ---- panel numbers ----
\badge{410.5}{28.5}{3}
\badge{886.7}{28.5}{2}
\badge{1362.5}{28.5}{1}
\badge{410.5}{332.2}{6}
\badge{886.7}{332.2}{5}
\badge{1362.5}{332.2}{4}
\badge{410.5}{633.3}{9}
\badge{886.7}{633.3}{8}
\badge{1362.5}{633.3}{7}
\end{tikzpicture}
\end{document}
